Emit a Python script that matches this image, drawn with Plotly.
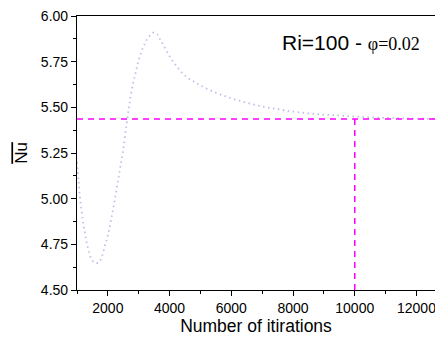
import plotly.graph_objects as go

iterations = [1000, 1050, 1100, 1200, 1300, 1400, 1500, 1600, 1700, 1800, 1900, 2000, 2100, 2200, 2300,
              2400, 2500, 2600, 2700, 2800, 2900, 3000, 3100, 3200, 3300, 3400, 3500, 3600, 3700,
              3800, 4000, 4200, 4400, 4600, 4800, 5000, 5500, 6000, 6500, 7000, 7500, 8000, 8500,
              9000, 9500, 10000, 10500, 11000, 11500, 12000, 12600]
nu = [5.20, 5.10, 5.00, 4.87, 4.77, 4.70, 4.66, 4.648, 4.65, 4.68, 4.74, 4.80, 4.88, 4.97, 5.07,
      5.17, 5.27, 5.40, 5.52, 5.62, 5.69, 5.76, 5.81, 5.85, 5.88, 5.90, 5.91, 5.90, 5.87,
      5.84, 5.78, 5.73, 5.69, 5.66, 5.64, 5.62, 5.58, 5.55, 5.525, 5.505, 5.49, 5.477, 5.467,
      5.46, 5.455, 5.45, 5.445, 5.442, 5.44, 5.438, 5.437]

x_ticks = [2000, 4000, 6000, 8000, 10000, 12000]
x_labels = ["2000", "4000", "6000", "8000", "10000", "12000"]
y_ticks = [4.5, 4.75, 5.0, 5.25, 5.5, 5.75, 6.0]
y_labels = ["4.50", "4.75", "5.00", "5.25", "5.50", "5.75", "6.00"]

h_line_x = [1000, 12600]
h_line_y = [5.436, 5.436]
v_line_x = [10000, 10000]
v_line_y = [4.50, 5.436]

fig = go.Figure()
fig.add_trace(go.Scatter(x=iterations, y=nu, mode="lines",
                         line=dict(color="rgb(190,190,232)", width=1.8, dash="1.5px,3.5px"),
                         line_shape="spline", showlegend=False))
fig.add_trace(go.Scatter(x=h_line_x, y=h_line_y, mode="lines",
                         line=dict(color="#ff00ff", width=1.5, dash="6px,5px"), showlegend=False))
fig.add_trace(go.Scatter(x=v_line_x, y=v_line_y, mode="lines",
                         line=dict(color="#ff00ff", width=1.5, dash="6px,5px"), showlegend=False))

font = "Liberation Sans, Arial, sans-serif"
fig.update_layout(
    width=435, height=337,
    margin=dict(l=77, r=0, t=16, b=47),
    paper_bgcolor="white", plot_bgcolor="white",
    font=dict(family=font, color="black", size=14),
    xaxis=dict(range=[1000, 12600], tickvals=x_ticks, ticktext=x_labels,
               ticklabeloverflow="allow",
               ticks="outside", ticklen=5, tickwidth=1, tickcolor="black",
               showline=True, linecolor="black", linewidth=1.2, mirror=True,
               showgrid=False, zeroline=False,
               minor=dict(ticks="outside", ticklen=3, tickcolor="black", dtick=1000, tick0=1000),
               title=dict(text="Number of itirations", font=dict(size=17.5), standoff=4)),
    yaxis=dict(range=[4.5, 6.0], tickvals=y_ticks, ticktext=y_labels,
               ticks="outside", ticklen=5, tickwidth=1, tickcolor="black",
               showline=True, linecolor="black", linewidth=1.2, mirror=False,
               showgrid=False, zeroline=False,
               minor=dict(ticks="outside", ticklen=3, tickcolor="black", dtick=0.125, tick0=4.5),
               title=dict(text="<span style='text-decoration:overline'>Nu</span>",
                          font=dict(size=17), standoff=8)),
    annotations=[dict(
        x=1.0, xanchor="right", y=1.0, yanchor="top", xshift=-13, yshift=-13,
        xref="paper", yref="paper", showarrow=False,
        text="Ri=100 - <span style='font-family:Liberation Serif, Times New Roman, serif;font-size:18px'>φ=0.02</span>",
        font=dict(size=21, family=font, color="black"))],
)
fig.write_html("out.html")
